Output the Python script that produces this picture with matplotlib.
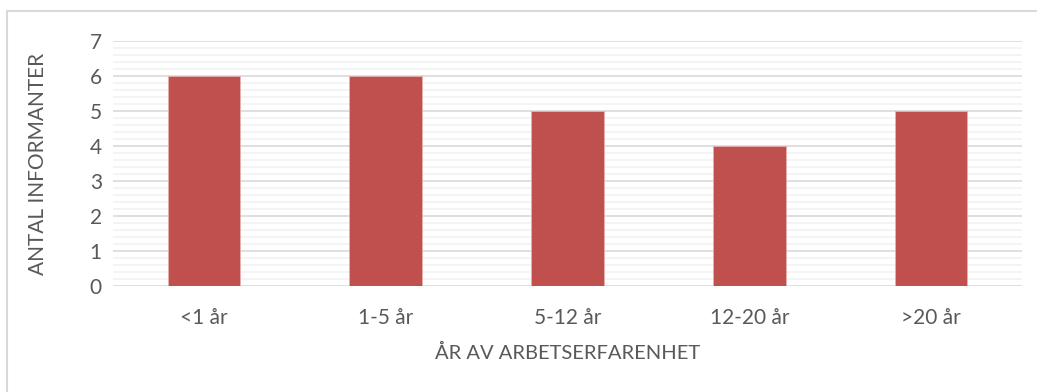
import matplotlib.pyplot as plt
from matplotlib.patches import Rectangle
from matplotlib.ticker import MultipleLocator

# Antal informanter per erfarenhetsgrupp
kategorier = ['<1 år', '1-5 år', '5-12 år', '12-20 år', '>20 år']
antal = [6, 6, 5, 4, 5]

textfarg = '#595959'
stapelfarg = '#C0504D'

plt.rcParams['font.family'] = ['Lato', 'DejaVu Sans']

W, H = 1037, 392
fig = plt.figure(figsize=(W / 100, H / 100), dpi=100)
ax = fig.add_axes([113 / W, 1 - 286 / H, (1022 - 113) / W, (286 - 41) / H])

x = range(len(kategorier))
ax.bar(x, antal, width=0.4, color=stapelfarg, edgecolor='#E8B0AE',
       linewidth=0.6, zorder=3)

ax.set_xlim(-0.5, len(kategorier) - 0.5)
ax.set_ylim(0, 7)
ax.yaxis.set_major_locator(MultipleLocator(1))
ax.yaxis.set_minor_locator(MultipleLocator(0.2))
ax.grid(axis='y', which='major', color='#D9D9D9', linewidth=1.2, zorder=0)
ax.grid(axis='y', which='minor', color='#F2F2F2', linewidth=1.2, zorder=0)

ax.set_xticks(list(x))
ax.set_xticklabels(kategorier)
ax.tick_params(axis='both', which='both', length=0, colors=textfarg,
               labelsize=15)
ax.tick_params(axis='x', pad=16)
ax.tick_params(axis='y', pad=8)
for s in ax.spines.values():
    s.set_visible(False)

ax.set_xlabel('ÅR AV ARBETSERFARENHET', color=textfarg, fontsize=14.5,
              labelpad=11)
ax.set_ylabel('ANTAL INFORMANTER', color=textfarg, fontsize=15, labelpad=30)

# ram runt diagrammet
fig.patches.append(Rectangle((7 / W, -0.1), 1.2, 1.1 - 11 / H,
                             transform=fig.transFigure, fill=False,
                             edgecolor='#D9D9D9', linewidth=1.5))

fig.savefig('out.png', dpi=100)
